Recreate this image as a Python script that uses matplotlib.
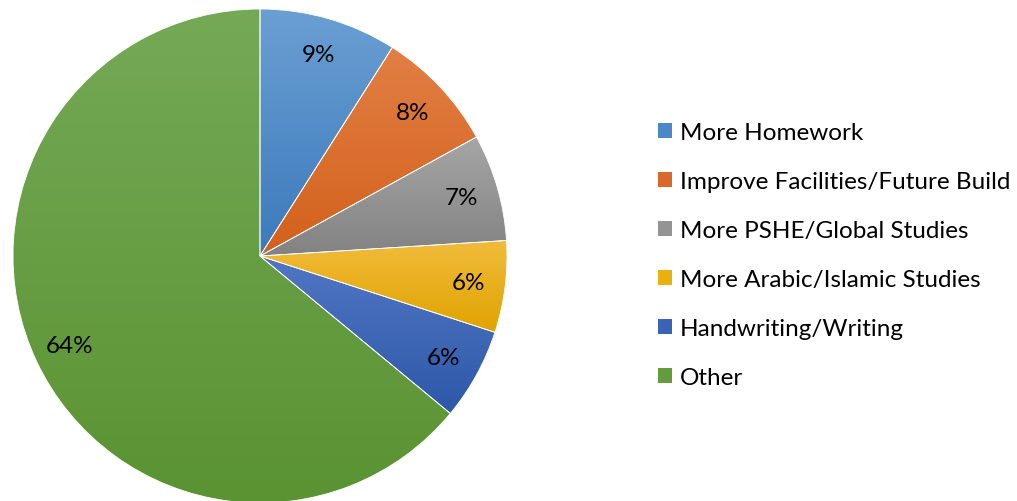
import numpy as np
import matplotlib
matplotlib.use("Agg")
import matplotlib.pyplot as plt
from matplotlib.colors import LinearSegmentedColormap, to_rgb

categories = ["More Homework", "Improve Facilities/Future Build", "More PSHE/Global Studies",
              "More Arabic/Islamic Studies", "Handwriting/Writing", "Other"]
shares = [9, 8, 7, 6, 6, 64]
pct_labels = ["9%", "8%", "7%", "6%", "6%", "64%"]

# light (top) / dark (bottom) of each slice gradient
top_cols = ["#6a9fd3", "#e27f45", "#a6a6a6", "#f1bc3c", "#5177c4", "#75a957"]
bot_cols = ["#3c7abb", "#d2611b", "#828282", "#e0a300", "#2d58a8", "#5a9332"]
legend_cols = ["#4a89c6", "#d9692a", "#949494", "#eab010", "#3b63b4", "#629c3c"]

plt.rcParams['font.family'] = ['Lato', 'DejaVu Sans']

W, H = 1017, 502
fig = plt.figure(figsize=(W / 100, H / 100), dpi=100)
cx, cy, R = 260, 257, 247
ax = fig.add_axes([(cx - R) / W, (H - cy - R) / H, 2 * R / W, 2 * R / H])

wedges, texts = ax.pie(shares, labels=pct_labels, startangle=90, counterclock=False,
                       radius=1, colors=legend_cols, labeldistance=0.85,
                       wedgeprops=dict(linewidth=0.6, edgecolor="white"),
                       textprops=dict(fontsize=17.5, color="black", ha="center", va="center"))

grad = np.linspace(0, 1, 256).reshape(-1, 1)
for w, c1, c2 in zip(wedges, top_cols, bot_cols):
    bb = w.get_path().get_extents()
    cmap = LinearSegmentedColormap.from_list("g", [to_rgb(c1), to_rgb(c2)])
    im = ax.imshow(grad, cmap=cmap, aspect="auto", origin="upper",
                   extent=[bb.x0, bb.x1, bb.y0, bb.y1], zorder=w.get_zorder() + 0.1)
    im.set_clip_path(w)
    w.set_zorder(w.get_zorder() + 0.2)
    w.set_facecolor("none")
for t in texts:
    t.set_zorder(10)

ax.set_xlim(-1, 1)
ax.set_ylim(-1, 1)
ax.set_aspect("equal")
ax.axis("off")

handles = [plt.Rectangle((0, 0), 1, 1, facecolor=c) for c in legend_cols]
fig.legend(handles, categories, loc="center left", bbox_to_anchor=(648 / W, 1 - 256 / H),
           frameon=False, fontsize=17.5, handlelength=0.6, handleheight=0.6,
           handletextpad=0.3, labelspacing=1.15, borderaxespad=0)

fig.savefig("out.png", dpi=100)
